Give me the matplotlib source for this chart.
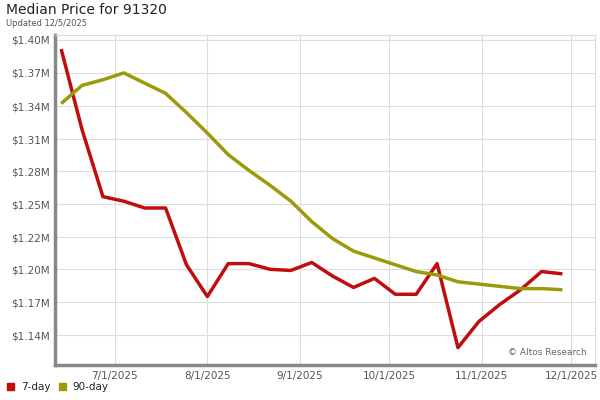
import matplotlib
matplotlib.use("Agg")
import matplotlib.pyplot as plt
import matplotlib.dates as mdates
import numpy as np
import pandas as pd

dates = pd.date_range("2025-06-13", periods=25, freq="7D")
day7 = [1.392, 1.321, 1.262, 1.258, 1.252, 1.252, 1.202, 1.174, 1.203, 1.203,
        1.198, 1.197, 1.204, 1.192, 1.182, 1.190, 1.176, 1.176, 1.203, 1.129,
        1.152, 1.167, 1.180, 1.196, 1.194]
day90 = [1.344, 1.360, 1.365, 1.371, 1.362, 1.353, 1.336, 1.318, 1.299, 1.285,
         1.272, 1.258, 1.240, 1.225, 1.214, 1.208, 1.202, 1.196, 1.193, 1.187,
         1.185, 1.183, 1.181, 1.181, 1.180]
ytick_labels = ["$1.14M", "$1.17M", "$1.20M", "$1.22M", "$1.25M",
                "$1.28M", "$1.31M", "$1.34M", "$1.37M", "$1.40M"]
xtick_dates = pd.to_datetime(["2025-07-01", "2025-08-01", "2025-09-01",
                              "2025-10-01", "2025-11-01", "2025-12-01"])
xtick_labels = ["7/1/2025", "8/1/2025", "9/1/2025", "10/1/2025", "11/1/2025", "12/1/2025"]

RED, OLIVE, GRID, AX = "#c00d0d", "#9b9b0a", "#dddddd", "#888888"

fig = plt.figure(figsize=(6, 4), dpi=100, facecolor="white")
ax = fig.add_axes([0.092, 0.0875, 0.9, 0.825])
ax.plot(dates, day7, color=RED, lw=2.5, solid_capstyle="butt")
ax.plot(dates, day90, color=OLIVE, lw=2.5, solid_capstyle="butt")

ax.set_ylim(1.1137, 1.4044)
ax.set_yticks(np.linspace(1.14, 1.40, 10)[:0] if False else [1.40 - i * 0.000881 * 32.8 for i in range(9, -1, -1)][1:] and [])
yt = [1.40 - (y - 40) * 0.000881 for y in [335, 302, 269, 237, 204, 171, 139, 106, 73, 40]]
ax.set_yticks(yt)
ax.set_yticklabels(ytick_labels)
ax.set_xlim(pd.Timestamp("2025-06-11"), pd.Timestamp("2025-12-09"))
ax.set_xticks(xtick_dates)
ax.set_xticklabels(xtick_labels)
ax.tick_params(labelsize=7.5, colors="#555555", length=0, pad=4)
ax.grid(True, color=GRID, lw=0.8)
ax.set_axisbelow(True)
for s in ["top", "right"]:
    ax.spines[s].set_color(GRID)
for s in ["left", "bottom"]:
    ax.spines[s].set_color(AX)
    ax.spines[s].set_linewidth(2.5)

ax.text(0.985, 0.03, "© Altos Research", transform=ax.transAxes, ha="right",
        fontsize=6.5, color="#666666")
fig.text(0.01, 0.965, "Median Price for 91320", fontsize=10, color="#222222")
fig.text(0.01, 0.935, "Updated 12/5/2025", fontsize=6, color="#555555")

fig.patches.append(plt.Rectangle((0.012, 0.025), 0.012, 0.018, color=RED, transform=fig.transFigure))
fig.text(0.035, 0.025, "7-day", fontsize=7.5, color="#222222")
fig.patches.append(plt.Rectangle((0.098, 0.025), 0.012, 0.018, color=OLIVE, transform=fig.transFigure))
fig.text(0.12, 0.025, "90-day", fontsize=7.5, color="#222222")

fig.savefig("out.png", dpi=100, facecolor="white")
